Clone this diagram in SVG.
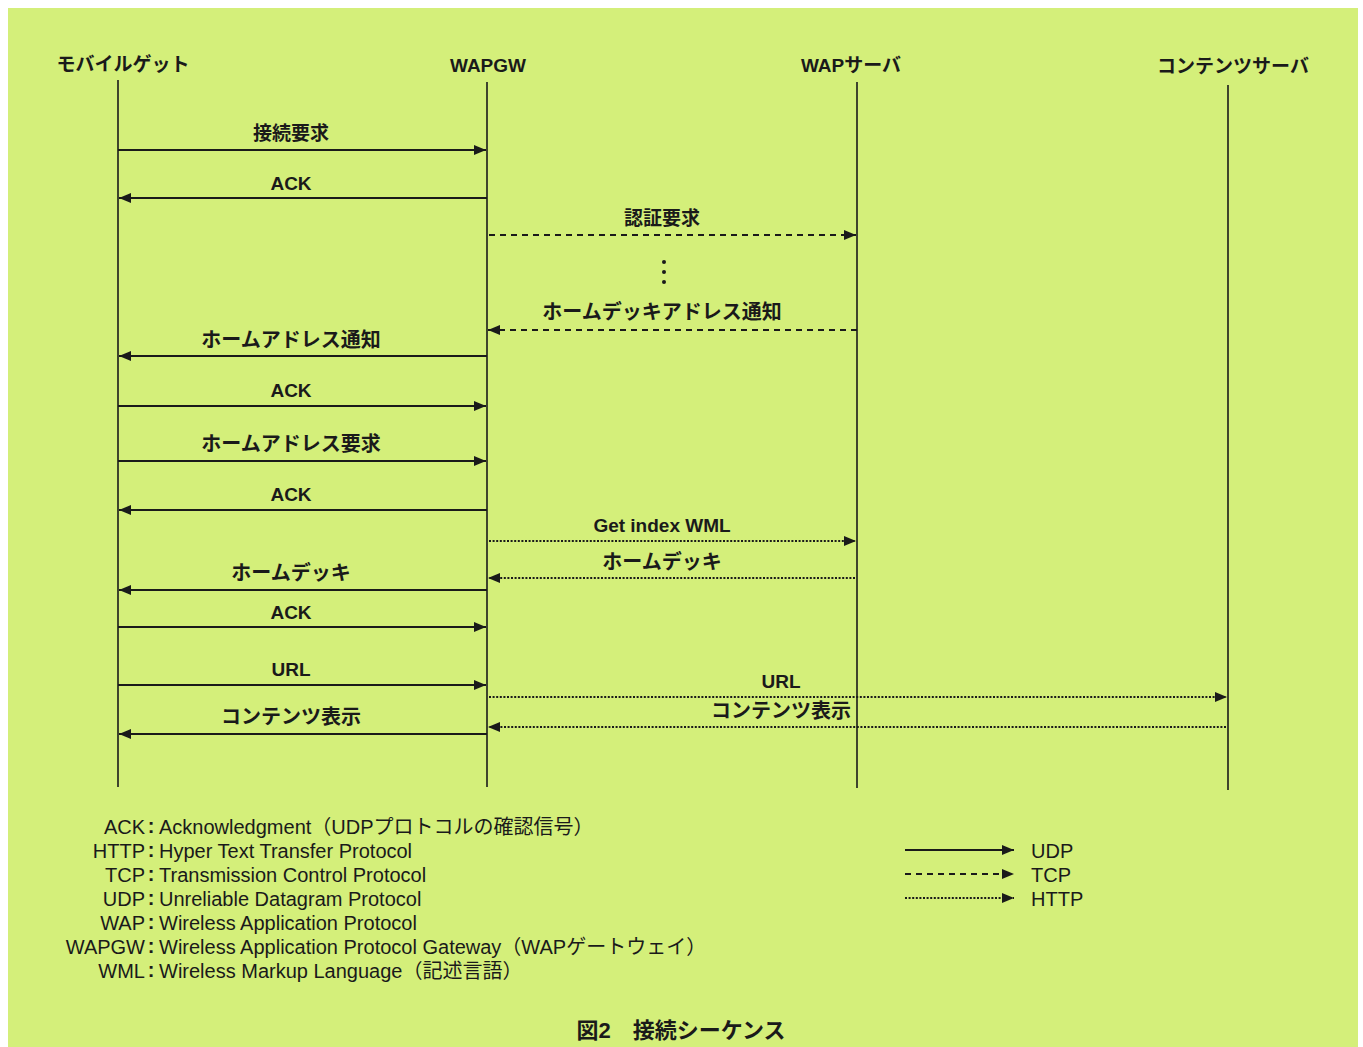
<svg xmlns="http://www.w3.org/2000/svg" width="1363" height="1047" viewBox="0 0 1363 1047">
<defs>
<style>
.t{font-family:"Liberation Sans","Noto Sans CJK JP",sans-serif;font-size:20px;fill:#1a1a1a}
.j{font-family:"Liberation Sans","Noto Sans CJK JP",sans-serif;font-size:19px;font-weight:bold;fill:#1a1a1a}
.k{font-family:"Liberation Sans","Noto Sans CJK JP",sans-serif;font-size:20px;font-weight:bold;fill:#1a1a1a}
.c{text-anchor:middle}
.e{text-anchor:end}
.life{stroke:#1a1a1a;stroke-width:1.6;fill:none}
.udp{stroke:#1a1a1a;stroke-width:2;fill:none}
.tcp{stroke:#1a1a1a;stroke-width:2;fill:none;stroke-dasharray:6 5}
.http{stroke:#1a1a1a;stroke-width:2;fill:none;stroke-dasharray:2 1.6}
</style>
<marker id="ah" viewBox="0 0 12 10" refX="12" refY="5" markerWidth="12" markerHeight="10" markerUnits="userSpaceOnUse" orient="auto">
<path d="M0,0 L12,5 L0,10 z" fill="#1a1a1a"/>
</marker>
</defs>
<rect width="1363" height="1047" fill="#ffffff"/>
<rect x="8" y="8" width="1350" height="1039" fill="#d4ef7a"/>

<g id="node-mobile">
<text class="j c" x="123" y="71">モバイルゲット</text>
<line class="life" x1="118" y1="80" x2="118" y2="787"/>
</g>
<g id="node-wapgw">
<text class="j c" x="488" y="72">WAPGW</text>
<line class="life" x1="487" y1="82" x2="487" y2="787"/>
</g>
<g id="node-wapserver">
<text class="j c" x="851" y="72">WAPサーバ</text>
<line class="life" x1="857" y1="82" x2="857" y2="788"/>
</g>
<g id="node-contents">
<text class="j c" x="1233" y="73">コンテンツサーバ</text>
<line class="life" x1="1228" y1="85" x2="1228" y2="790"/>
</g>

<g id="connectors">
<line class="udp" x1="118" y1="150" x2="486" y2="150" marker-end="url(#ah)"/>
<line class="udp" x1="487" y1="198" x2="119" y2="198" marker-end="url(#ah)"/>
<line class="tcp" x1="489" y1="235" x2="856" y2="235" marker-end="url(#ah)"/>
<line class="tcp" x1="857" y1="330" x2="488" y2="330" marker-end="url(#ah)"/>
<line class="udp" x1="487" y1="356" x2="119" y2="356" marker-end="url(#ah)"/>
<line class="udp" x1="118" y1="406" x2="486" y2="406" marker-end="url(#ah)"/>
<line class="udp" x1="118" y1="461" x2="486" y2="461" marker-end="url(#ah)"/>
<line class="udp" x1="487" y1="510" x2="119" y2="510" marker-end="url(#ah)"/>
<line class="http" x1="489" y1="541" x2="856" y2="541" marker-end="url(#ah)"/>
<line class="http" x1="855" y1="578" x2="488" y2="578" marker-end="url(#ah)"/>
<line class="udp" x1="487" y1="590" x2="119" y2="590" marker-end="url(#ah)"/>
<line class="udp" x1="118" y1="627" x2="486" y2="627" marker-end="url(#ah)"/>
<line class="udp" x1="118" y1="685" x2="486" y2="685" marker-end="url(#ah)"/>
<line class="http" x1="489" y1="697" x2="1227" y2="697" marker-end="url(#ah)"/>
<line class="http" x1="1226" y1="727" x2="488" y2="727" marker-end="url(#ah)"/>
<line class="udp" x1="487" y1="734" x2="119" y2="734" marker-end="url(#ah)"/>
<circle cx="664" cy="262" r="2" fill="#1a1a1a"/>
<circle cx="664" cy="272" r="2" fill="#1a1a1a"/>
<circle cx="664" cy="282" r="2" fill="#1a1a1a"/>
</g>

<g id="labels">
<text class="j c" x="291" y="140">接続要求</text>
<text class="j c" x="291" y="190">ACK</text>
<text class="j c" x="662" y="225">認証要求</text>
<text class="k c" x="662" y="319">ホームデッキアドレス通知</text>
<text class="k c" x="291" y="347">ホームアドレス通知</text>
<text class="j c" x="291" y="397">ACK</text>
<text class="k c" x="291" y="451">ホームアドレス要求</text>
<text class="j c" x="291" y="501">ACK</text>
<text class="j c" x="662" y="532">Get index WML</text>
<text class="k c" x="662" y="569">ホームデッキ</text>
<text class="k c" x="291" y="580">ホームデッキ</text>
<text class="j c" x="291" y="619">ACK</text>
<text class="j c" x="291" y="676">URL</text>
<text class="j c" x="781" y="688">URL</text>
<text class="k c" x="781" y="718">コンテンツ表示</text>
<text class="k c" x="291" y="724">コンテンツ表示</text>
</g>

<g id="glossary">
<text class="t e" x="145" y="834">ACK</text>
<text class="t e" x="145" y="858">HTTP</text>
<text class="t e" x="145" y="882">TCP</text>
<text class="t e" x="145" y="906">UDP</text>
<text class="t e" x="145" y="930">WAP</text>
<text class="t e" x="145" y="954">WAPGW</text>
<text class="t e" x="145" y="978">WML</text>
<text class="k c" x="151" y="833">:</text>
<text class="k c" x="151" y="857">:</text>
<text class="k c" x="151" y="881">:</text>
<text class="k c" x="151" y="905">:</text>
<text class="k c" x="151" y="929">:</text>
<text class="k c" x="151" y="953">:</text>
<text class="k c" x="151" y="977">:</text>
<text class="t" x="159" y="834">Acknowledgment（UDPプロトコルの確認信号）</text>
<text class="t" x="159" y="858">Hyper Text Transfer Protocol</text>
<text class="t" x="159" y="882">Transmission Control Protocol</text>
<text class="t" x="159" y="906">Unreliable Datagram Protocol</text>
<text class="t" x="159" y="930">Wireless Application Protocol</text>
<text class="t" x="159" y="954">Wireless Application Protocol Gateway（WAPゲートウェイ）</text>
<text class="t" x="159" y="978">Wireless Markup Language（記述言語）</text>
</g>

<g id="legend">
<line class="udp" x1="905" y1="850" x2="1014" y2="850" marker-end="url(#ah)"/>
<line class="tcp" x1="905" y1="874" x2="1014" y2="874" marker-end="url(#ah)"/>
<line class="http" x1="905" y1="898" x2="1014" y2="898" marker-end="url(#ah)"/>
<text class="t" x="1031" y="858">UDP</text>
<text class="t" x="1031" y="882">TCP</text>
<text class="t" x="1031" y="906">HTTP</text>
</g>

<g id="caption">
<text class="k c" x="681" y="1038" style="font-size:22px">図2　接続シーケンス</text>
</g>
</svg>
